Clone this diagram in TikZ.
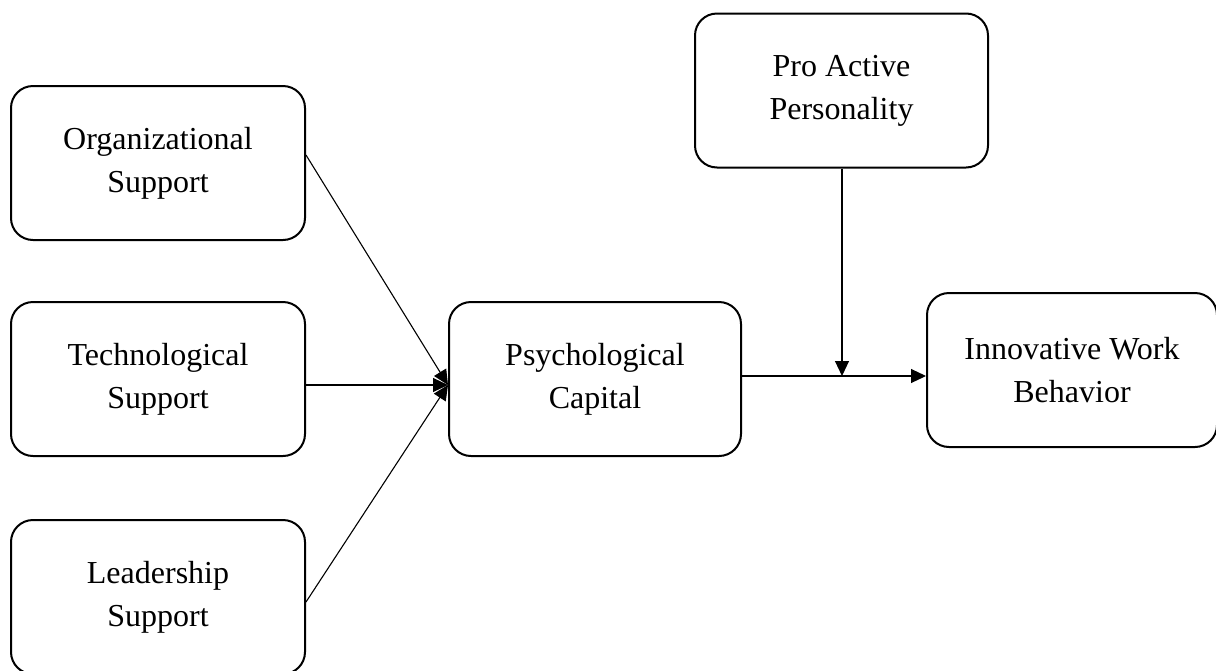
\documentclass[tikz,border=0pt]{standalone}
\usepackage{fontspec}
\setmainfont{Liberation Serif}
\usetikzlibrary{arrows.meta}
\begin{document}
\begin{tikzpicture}[x=1pt,y=-1pt,
  box/.style={draw,line width=2pt,rounded corners=22pt,minimum width=294pt,minimum height=154pt,
    align=center,font=\fontsize{32}{43}\selectfont,inner sep=0pt},
  conn/.style={line width=1.1pt,-{Triangle[length=15pt,width=14pt]}},
  plain/.style={line width=1.1pt}]
\path[use as bounding box] (0,0) rectangle (1216,670);
\node[box] (org) at (158,163) {Organizational\\Support};
\node[box] (tech) at (158,379) {Technological\\Support};
\node[box] (lead) at (158,597) {Leadership\\Support};
\node[box,minimum width=292pt] (psy) at (595,379) {Psychological\\Capital};
\node[box,minimum width=293pt] (pro) at (841.5,90.5) {Pro Active\\Personality};
\node[box,minimum width=290pt] (inn) at (1072,370) {Innovative Work\\Behavior};
\coordinate (tgt) at (448,385);
\coordinate (join) at (842,376);
\draw[conn] (org.east |- 0,155) -- (tgt);
\draw[conn] (tech.east |- tgt) -- (tgt);
\draw[conn] (lead.east |- 0,602) -- (tgt);
\draw[conn] (psy.east |- join) -- (inn.west |- join);
\draw[conn] (pro.south -| join) -- (join);
\end{tikzpicture}
\end{document}
